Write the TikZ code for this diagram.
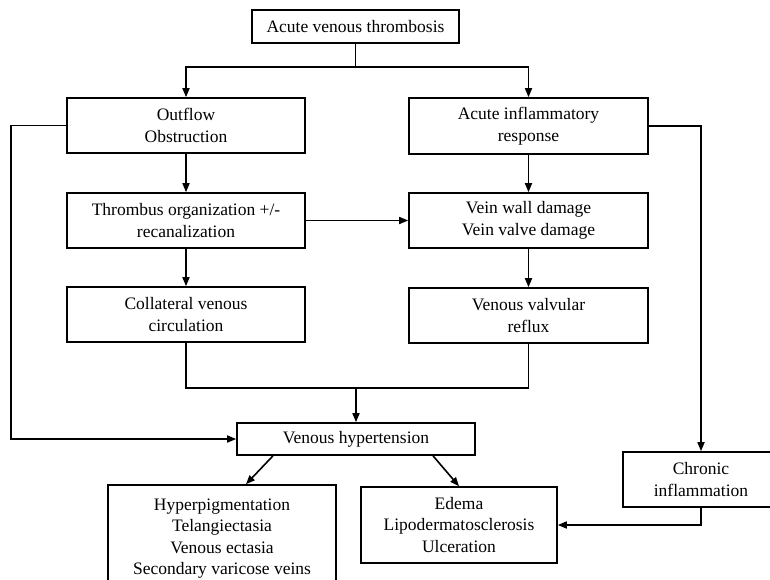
\documentclass[tikz,border=0pt]{standalone}
\usepackage{fontspec}
\setmainfont{Liberation Serif}
\usetikzlibrary{arrows.meta}

\begin{document}
\begin{tikzpicture}[
    x=1pt, y=-1pt,
    box/.style={draw, line width=1.6pt, align=center, inner sep=0pt,
      font=\fontsize{17.5}{21.5}\selectfont},
    flow/.style={line width=1.6pt, -{Triangle[length=9pt,width=7pt]}},
    link/.style={line width=1.6pt}
  ]

    % Canvas
    \useasboundingbox (0,0) rectangle (770,580);

    % Top box
    \node[box, minimum width=207pt, minimum height=33pt] (avt) at (355.5,26.5) {Acute venous thrombosis};

    % Left column
    \node[box, minimum width=238pt, minimum height=55pt] (obstr) at (186,125.5) {Outflow\\Obstruction};
    \node[box, minimum width=238pt, minimum height=55pt] (organ) at (186,220.5) {Thrombus organization +/-\\recanalization};
    \node[box, minimum width=238pt, minimum height=55pt] (collat) at (186,314.5) {Collateral venous\\circulation};

    % Right column
    \node[box, minimum width=239pt, minimum height=56pt] (inflam) at (528.5,126) {Acute inflammatory\\response};
    \node[box, minimum width=239pt, minimum height=55pt] (damage) at (528.5,220.5) {Vein wall damage\\Vein valve damage};
    \node[box, minimum width=239pt, minimum height=55pt] (reflux) at (528.5,315.5) {Venous valvular\\reflux};

    % Lower boxes
    \node[box, minimum width=238pt, minimum height=32pt] (hyper) at (356,439) {Venous hypertension};
    \node[box, minimum width=228pt, minimum height=107pt] (skin) at (222,538.5) {Hyperpigmentation\\Telangiectasia\\Venous ectasia\\Secondary varicose veins};
    \node[box, minimum width=196pt, minimum height=76pt] (edema) at (459,525) {Edema\\Lipodermatosclerosis\\Ulceration};
    \node[box, minimum width=156pt, minimum height=55pt] (chronic) at (701,479.5) {Chronic\\inflammation};

    % Split from the top
    \draw[flow] (avt.south) -- ++(0,23.5) -| (obstr.north);
    \draw[flow] (avt.south) -- ++(0,23.5) -| (inflam.north);

    % Vertical steps
    \draw[flow] (obstr) -- (organ);
    \draw[flow] (organ) -- (collat);
    \draw[flow] (inflam) -- (damage);
    \draw[flow] (damage) -- (reflux);
    \draw[flow] (organ) -- (damage);

    % Join into venous hypertension
    \coordinate (join) at (356,388);
    \draw[link] (collat.south) |- (join) -| (reflux.south);
    \draw[flow] (join) -- (hyper.north);

    % Outer loops
    \draw[flow] (obstr.west) -- ++(-55,0) |- (hyper.west);
    \draw[flow] (inflam.east) -| (chronic.north);
    \draw[flow] (chronic.south) |- (edema.east);

    % Consequences
    \draw[flow] ([xshift=-83pt]hyper.south) -- ([xshift=24pt]skin.north);
    \draw[flow] ([xshift=77pt]hyper.south) -- (edema.north);

  \end{tikzpicture}
\end{document}
